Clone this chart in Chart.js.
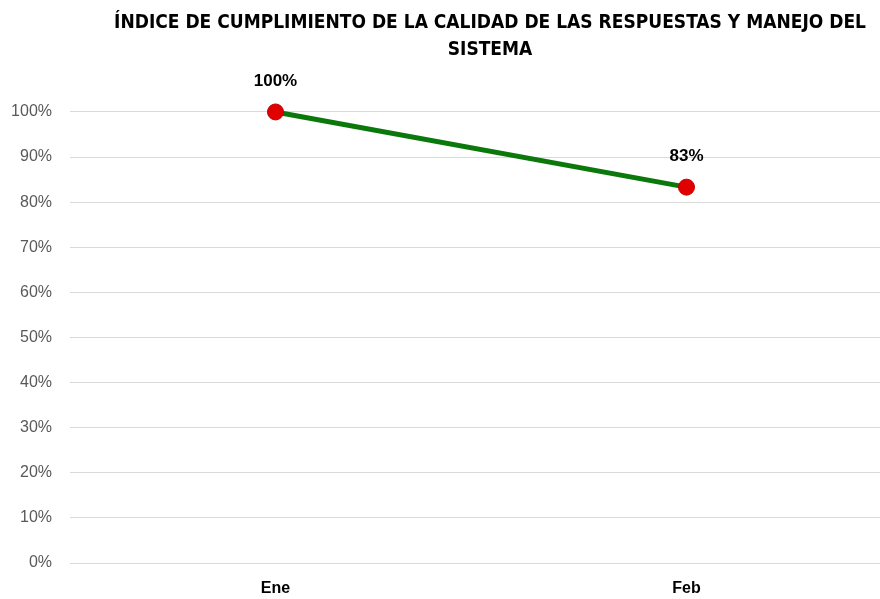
<!DOCTYPE html>
<html>
<head>
<meta charset="utf-8">
<style>
  html, body { margin: 0; padding: 0; background: #ffffff; overflow: hidden; }
  #wrap { position: relative; width: 980px; height: 599px; }
</style>
<script src="https://cdn.jsdelivr.net/npm/chart.js@4.4.1/dist/chart.umd.min.js"></script>
</head>
<body>
<div id="wrap"><canvas id="c"></canvas></div>
<script>
const titleLines = ['ÍNDICE DE CUMPLIMIENTO DE LA CALIDAD DE LAS RESPUESTAS Y MANEJO DEL', 'SISTEMA'];
const categories = ['Ene', 'Feb'];
const values = [1.0, 0.8333];
const valueLabels = ['100%', '83%'];

const labelPlugin = {
  id: 'pointLabels',
  afterDatasetsDraw(chart) {
    const ctx = chart.ctx;
    const meta = chart.getDatasetMeta(0);
    ctx.save();
    ctx.font = "bold 17px 'Liberation Sans', Arial, sans-serif";
    ctx.fillStyle = '#000000';
    ctx.textAlign = 'center';
    ctx.textBaseline = 'middle';
    meta.data.forEach((pt, i) => {
      ctx.fillText(valueLabels[i], pt.x, pt.y - 31);
    });
    ctx.restore();
  }
};

new Chart(document.getElementById('c'), {
  type: 'line',
  data: {
    labels: categories,
    datasets: [{
      data: values,
      yAxisID: 'y',
      borderColor: '#0a780a',
      borderWidth: 5,
      pointRadius: 8,
      pointHoverRadius: 8,
      pointBackgroundColor: '#e00000',
      pointBorderColor: '#c00000',
      pointBorderWidth: 1,
      tension: 0,
      fill: false,
      clip: false
    }]
  },
  options: {
    responsive: true,
    maintainAspectRatio: false,
    animation: false,
    layout: { padding: { left: 0, right: 0, top: 10, bottom: 0 } },
    plugins: {
      legend: { display: false },
      tooltip: { enabled: false },
      title: {
        display: true,
        text: titleLines,
        color: '#000000',
        font: { family: "'DejaVu Sans Condensed', sans-serif", size: 19, weight: 'bold', lineHeight: 1.42 },
        padding: { top: 0, bottom: 48 }
      }
    },
    scales: {
      x: {
        offset: true,
        grid: { display: false, drawTicks: false },
        border: { display: false },
        ticks: {
          color: '#000000',
          font: { family: "'Liberation Sans', Arial, sans-serif", size: 16, weight: 'bold' },
          padding: 16
        },
        afterFit(scale) { scale.height = 36; }
      },
      y: {
        position: 'left',
        min: 0,
        max: 1,
        grid: { color: '#d9d9d9', lineWidth: 1, drawTicks: false },
        border: { display: false },
        ticks: {
          stepSize: 0.1,
          color: '#595959',
          font: { family: "'Liberation Sans', Arial, sans-serif", size: 16 },
          padding: 18,
          callback: (v) => Math.round(v * 100) + '%'
        },
        afterFit(scale) { scale.width = 70; }
      },
      yr: {
        position: 'right',
        display: true,
        min: 0,
        max: 1,
        grid: { display: false, drawTicks: false },
        border: { display: false },
        ticks: { display: false },
        afterFit(scale) { scale.width = 88; }
      }
    }
  },
  plugins: [labelPlugin]
});
</script>
</body>
</html>
